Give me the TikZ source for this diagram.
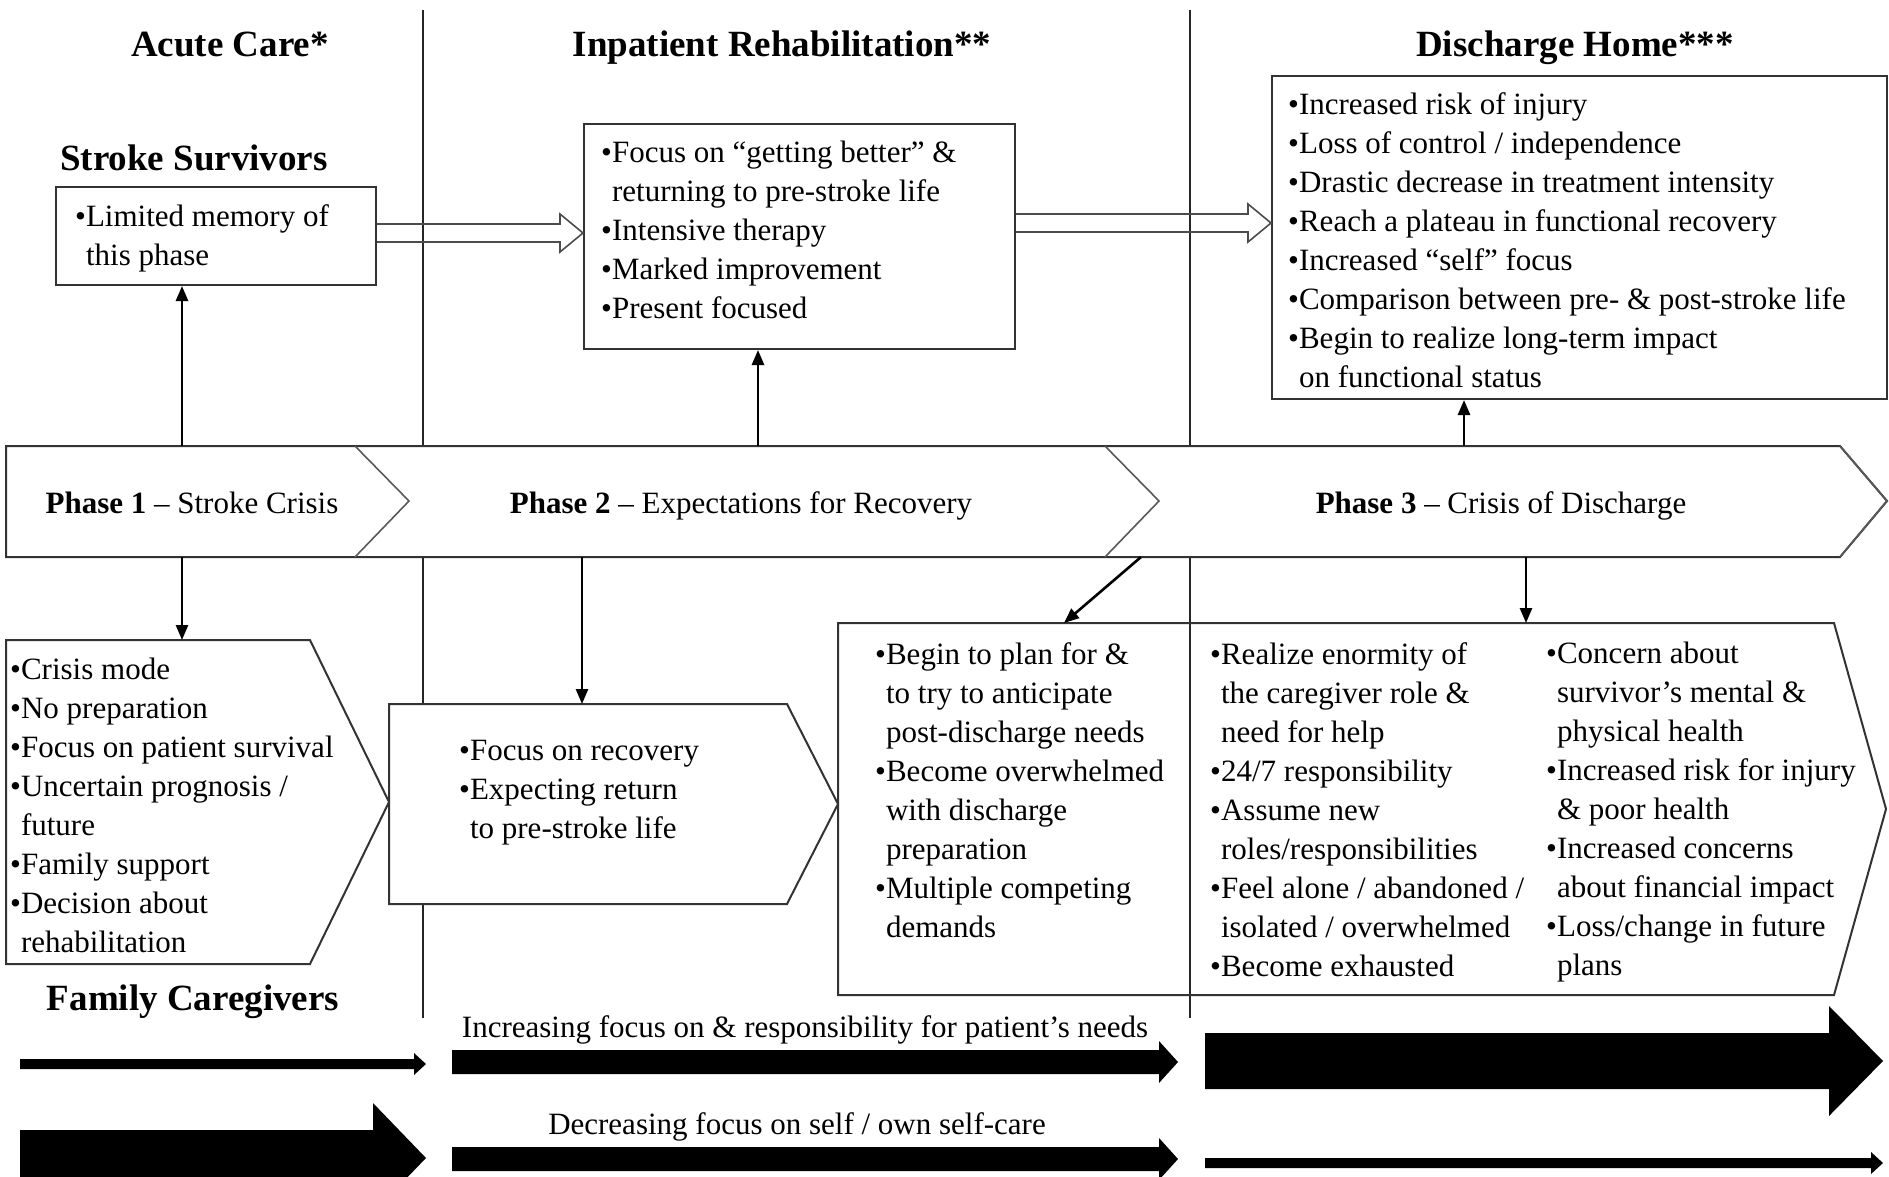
\documentclass[tikz,border=0pt]{standalone}
\usepackage{fontspec}
\setmainfont{Liberation Serif}
\usetikzlibrary{arrows.meta}
\newcommand{\fsbody}{\fontsize{31}{39}\selectfont}
\newcommand{\fshead}{\fontsize{37}{42}\selectfont\bfseries}
\newcommand{\ind}{\hphantom{•}}
\newcommand{\blockarrow}[6]{%
  \fill[black] (#1,{#3-#4}) -- ({#2-#6},{#3-#4}) -- ({#2-#6},{#3-#5}) -- (#2,#3)
    -- ({#2-#6},{#3+#5}) -- ({#2-#6},{#3+#4}) -- (#1,{#3+#4}) -- cycle;}
\definecolor{boxc}{HTML}{333333}
\begin{document}
\begin{tikzpicture}[x=1pt,y=-1pt,
  box/.style={draw=boxc,line width=2pt,fill=white,inner sep=0pt},
  txt/.style={inner sep=0pt,anchor=north west,align=left,font=\fsbody},
  lbl/.style={inner sep=0pt,font=\fsbody,text height=22pt,text depth=0pt},
  head/.style={inner sep=0pt,font=\fshead,text height=26pt,text depth=0pt},
  conn/.style={line width=2.6pt,-{Triangle[length=15pt,width=12pt]}},
  hollow/.style={draw=gray!60!black,line width=1.6pt},
  divider/.style={line width=1.6pt,draw=black!85},
  chev/.style={draw=gray!70!black,line width=1.6pt}]
\useasboundingbox (0,0) rectangle (1889,1176);
\clip (0,0) rectangle (1889,1176);
\fill[white] (0,0) rectangle (1889,1176);

% phase dividers
\draw[divider] (423,10) -- (423,1018);
\draw[divider] (1190,10) -- (1190,1018);

% headers
\node[head] (hac) at (230,43) {Acute Care*};
\node[head] (hir) at (782,43) {Inpatient Rehabilitation**};
\node[head] (hdh) at (1575,43) {Discharge Home***};
\node[head] (hss) at (194,157) {Stroke Survivors};
\node[head] (hfc) at (193,997) {Family Caregivers};

% survivor boxes
\node[box,fill=none,minimum width=320pt,minimum height=98pt,anchor=north west] (ss) at (55,186) {};
\node[box,fill=none,minimum width=431pt,minimum height=225pt,anchor=north west] (ir) at (583,123) {};
\node[box,fill=none,minimum width=615pt,minimum height=323pt,anchor=north west] (dh) at (1271,75) {};

\node[txt] (sst) at (75,204) {•Limited memory of\\\ind this phase};
\node[txt] (irt) at (601,141) {•Focus on “getting better” \&\\\ind returning to pre-stroke life\\•Intensive therapy\\•Marked improvement\\•Present focused};
\node[txt] (dht) at (1288,92) {•Increased risk of injury\\•Loss of control / independence\\•Drastic decrease in treatment intensity\\•Reach a plateau in functional recovery\\•Increased “self” focus\\•Comparison between pre- \& post-stroke life\\•Begin to realize long-term impact\\\ind on functional status};

% hollow arrows between survivor boxes
\draw[hollow] (ss.east |- 0,224) -- (560,224) -- (560,214) -- (ir.west |- 0,233) -- (560,252) -- (560,242) -- (ss.east |- 0,242);
\draw[hollow] (ir.east |- 0,214) -- (1248,214) -- (1248,204) -- (dh.west |- 0,223) -- (1248,242) -- (1248,232) -- (ir.east |- 0,232);

% phase band
\filldraw[fill=white,draw=boxc,line width=2pt] (6,446) -- (1840,446) -- (1887,501) -- (1840,557) -- (6,557) -- cycle;
\draw[chev] (355,446) -- (409,501) -- (355,557);
\draw[chev] (1105,446) -- (1159,501) -- (1105,557);
\draw[chev] (1840,446) -- (1887,501) -- (1840,557);
\node[lbl] (ph1) at (192,502) {\textbf{Phase 1} – Stroke Crisis};
\node[lbl] (ph2) at (741,502) {\textbf{Phase 2} – Expectations for Recovery};
\node[lbl] (ph3) at (1501,502) {\textbf{Phase 3} – Crisis of Discharge};
\coordinate (b1t) at (182,446);
\coordinate (b2t) at (758,446);
\coordinate (b3t) at (1464,446);
\coordinate (b1b) at (182,557);
\coordinate (b2b) at (582,557);
\coordinate (b2d) at (1141,557);
\coordinate (b3b) at (1526,557);

% caregiver boxes
\filldraw[fill=white,draw=boxc,line width=2pt] (6,640) -- (310,640) -- (389,802) -- (310,964) -- (6,964) -- cycle;
\filldraw[fill=white,draw=boxc,line width=2pt] (389,704) -- (787,704) -- (838,804) -- (787,904) -- (389,904) -- cycle;
\draw[draw=boxc,line width=2pt] (838,623) -- (1834,623) -- (1886,809) -- (1834,995) -- (838,995) -- cycle;
\coordinate (fc1) at (182,640);
\coordinate (fc2) at (582,704);
\coordinate (fc3a) at (1064,623);
\coordinate (fc3b) at (1526,623);

\node[txt] (fc1t) at (10,658) {•Crisis mode\\•No preparation\\•Focus on patient survival\\•Uncertain prognosis /\\\ind future\\•Family support\\•Decision about\\\ind rehabilitation};
\node[txt] (fc2t) at (459,740) {•Focus on recovery\\•Expecting return\\\ind to pre-stroke life};
\node[txt] (fc3t1) at (875,642) {•Begin to plan for \&\\\ind to try to anticipate\\\ind post-discharge needs\\•Become overwhelmed\\\ind with discharge\\\ind preparation\\•Multiple competing\\\ind demands};
\node[txt] (fc3t2) at (1210,642) {•Realize enormity of\\\ind the caregiver role \&\\\ind need for help\\•24/7 responsibility\\•Assume new\\\ind roles/responsibilities\\•Feel alone / abandoned /\\\ind isolated / overwhelmed\\•Become exhausted};
\node[txt] (fc3t3) at (1546,642) {•Concern about\\\ind survivor’s mental \&\\\ind physical health\\•Increased risk for injury\\\ind \& poor health\\•Increased concerns\\\ind about financial impact\\•Loss/change in future\\\ind plans};

% connectors
\draw[conn] (b1t) -- (b1t |- ss.south);
\draw[conn] (b2t) -- (b2t |- ir.south);
\draw[conn] (b3t) -- (b3t |- dh.south);
\draw[conn] (b1b) -- (fc1);
\draw[conn] (b2b) -- (fc2);
\draw[conn] (b2d) -- (fc3a);
\draw[conn] (b3b) -- (fc3b);

% bottom trend arrows
\node[lbl] (inc) at (805,1026) {Increasing focus on \& responsibility for patient’s needs};
\node[lbl] (dec) at (797,1123) {Decreasing focus on self / own self-care};
\blockarrow{20}{426}{1064}{5}{11}{12}
\blockarrow{452}{1178}{1062}{12}{21}{19}
\blockarrow{1205}{1883}{1061}{28}{55}{54}
\blockarrow{20}{426}{1158}{28}{55}{53}
\blockarrow{452}{1178}{1159}{12}{21}{19}
\blockarrow{1205}{1883}{1163}{5}{11}{12}
\end{tikzpicture}
\end{document}
